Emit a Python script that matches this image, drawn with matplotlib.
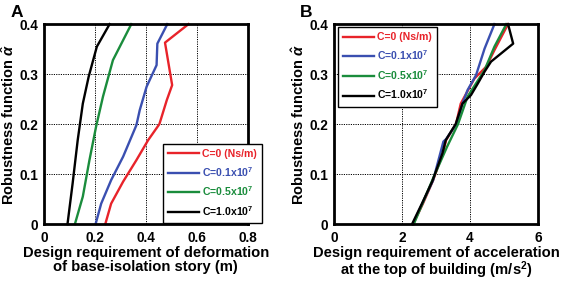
import matplotlib
matplotlib.use("Agg")
import matplotlib.pyplot as plt

plt.rcParams['font.family'] = ['Liberation Sans', 'DejaVu Sans']
plt.rcParams['font.weight'] = 'bold'
plt.rcParams['mathtext.fontset'] = 'custom'
plt.rcParams['mathtext.rm'] = 'Liberation Sans:bold'
plt.rcParams['mathtext.bf'] = 'Liberation Sans:bold'
plt.rcParams['mathtext.it'] = 'Liberation Sans:italic'

labels = ["C=0 (Ns/m)", r"C=0.1x10$^{7}$", r"C=0.5x10$^{7}$", r"C=1.0x10$^{7}$"]
colors = ["#e8232a", "#3a4fb0", "#1a8c3c", "#000000"]

# Panel A: deformation (m) vs robustness
a_red_x = [0.241, 0.264, 0.311, 0.363, 0.409, 0.453, 0.482, 0.503, 0.475, 0.567]
a_red_y = [0.0, 0.041, 0.085, 0.128, 0.168, 0.200, 0.248, 0.278, 0.363, 0.400]
a_blue_x = [0.203, 0.225, 0.264, 0.311, 0.363, 0.376, 0.403, 0.442, 0.445, 0.484]
a_blue_y = [0.0, 0.041, 0.088, 0.135, 0.198, 0.228, 0.275, 0.318, 0.361, 0.400]
a_green_x = [0.122, 0.153, 0.179, 0.205, 0.232, 0.271, 0.304, 0.343]
a_green_y = [0.0, 0.055, 0.128, 0.195, 0.255, 0.328, 0.361, 0.400]
a_black_x = [0.093, 0.113, 0.133, 0.153, 0.176, 0.208, 0.258]
a_black_y = [0.0, 0.081, 0.168, 0.241, 0.295, 0.355, 0.400]

# Panel B: acceleration (m/s^2) vs robustness
b_red_x = [2.33, 2.62, 2.92, 3.20, 3.30, 3.59, 3.73, 4.13, 4.48, 4.72, 5.12]
b_red_y = [0.0, 0.041, 0.088, 0.141, 0.168, 0.200, 0.241, 0.291, 0.315, 0.348, 0.400]
b_blue_x = [2.32, 2.60, 2.92, 3.22, 3.30, 3.60, 3.78, 3.93, 4.18, 4.43, 4.72]
b_blue_y = [0.0, 0.041, 0.088, 0.165, 0.170, 0.200, 0.241, 0.268, 0.298, 0.351, 0.400]
b_green_x = [2.35, 2.94, 3.33, 3.65, 3.93, 4.43, 4.72, 5.07]
b_green_y = [0.0, 0.095, 0.155, 0.200, 0.255, 0.308, 0.355, 0.400]
b_black_x = [2.30, 2.59, 2.89, 3.19, 3.29, 3.58, 3.78, 4.03, 4.23, 4.43, 4.62, 5.27, 5.12]
b_black_y = [0.0, 0.041, 0.085, 0.141, 0.168, 0.200, 0.241, 0.258, 0.281, 0.305, 0.325, 0.361, 0.400]

a_series = [(a_red_x, a_red_y), (a_blue_x, a_blue_y), (a_green_x, a_green_y), (a_black_x, a_black_y)]
b_series = [(b_red_x, b_red_y), (b_blue_x, b_blue_y), (b_green_x, b_green_y), (b_black_x, b_black_y)]

a_xticks = [0, 0.2, 0.4, 0.6, 0.8]
a_xticklabels = ["0", "0.2", "0.4", "0.6", "0.8"]
b_xticks = [0, 2, 4, 6]
b_xticklabels = ["0", "2", "4", "6"]
yticks = [0, 0.1, 0.2, 0.3, 0.4]
yticklabels = ["0", "0.1", "0.2", "0.3", "0.4"]

fig = plt.figure(figsize=(5.61, 2.84), dpi=100)
axA = fig.add_axes([0.078, 0.211, 0.364, 0.704])
axB = fig.add_axes([0.595, 0.211, 0.364, 0.704])


def style(ax, xlim, xticks, xticklabels, xlabel):
    ax.set_xlim(*xlim)
    ax.set_ylim(0, 0.4)
    ax.set_xticks(xticks)
    ax.set_xticklabels(xticklabels, fontsize=9.8, fontweight='bold')
    ax.set_yticks(yticks)
    ax.set_yticklabels(yticklabels, fontsize=9.8, fontweight='bold')
    ax.tick_params(axis='y', length=0, pad=4)
    ax.tick_params(axis='x', length=0, pad=5)
    ax.grid(True, color='black', linestyle=(0, (1.2, 1.2)), linewidth=0.7)
    ax.set_axisbelow(True)
    for s in ax.spines.values():
        s.set_linewidth(2.0)
    ax.set_xlabel(xlabel, fontsize=10.6, fontweight='bold', labelpad=1, linespacing=0.95)
    ax.set_ylabel(r"Robustness function $\hat{\alpha}$", fontsize=10.5, fontweight='bold', labelpad=2)


for (x, y), c, l in zip(a_series, colors, labels):
    axA.plot(x, y, color=c, linewidth=1.7, label=l, clip_on=False)
for (x, y), c, l in zip(b_series, colors, labels):
    axB.plot(x, y, color=c, linewidth=1.7, label=l, clip_on=False)

style(axA, (0, 0.8), a_xticks, a_xticklabels,
      "Design requirement of deformation\nof base-isolation story (m)")
style(axB, (0, 6), b_xticks, b_xticklabels,
      "Design requirement of acceleration\nat the top of building (m/s$^{2}$)")

legA = axA.legend(loc='lower left', bbox_to_anchor=(0.585, 0.005), fontsize=7.6,
                  frameon=True, fancybox=False, edgecolor='black', handlelength=2.9,
                  handletextpad=0.3, borderpad=0.5, labelspacing=0.55, borderaxespad=0)
legB = axB.legend(loc='upper left', bbox_to_anchor=(0.02, 0.985), fontsize=7.6,
                  frameon=True, fancybox=False, edgecolor='black', handlelength=2.9,
                  handletextpad=0.3, borderpad=0.5, labelspacing=0.55, borderaxespad=0)
for leg in (legA, legB):
    leg.get_frame().set_linewidth(1.0)
    leg.get_frame().set_alpha(1)
    for t, c in zip(leg.get_texts(), colors):
        t.set_color(c)
        t.set_fontweight('bold')

fig.text(0.018, 0.955, "A", fontsize=12.5, fontweight='bold', va='center')
fig.text(0.535, 0.955, "B", fontsize=12.5, fontweight='bold', va='center')

fig.savefig("out.png", dpi=100)
